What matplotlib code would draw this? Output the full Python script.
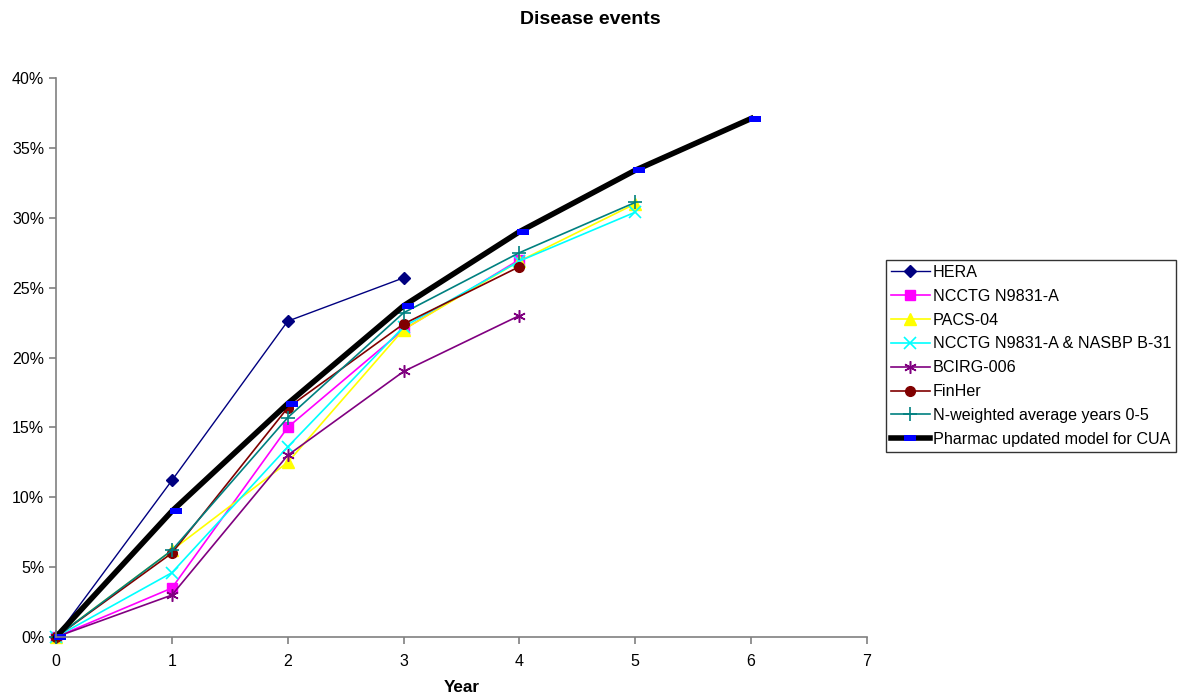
import matplotlib
matplotlib.use("Agg")
import matplotlib.pyplot as plt
from matplotlib.ticker import FuncFormatter, MultipleLocator
from matplotlib.lines import Line2D
from matplotlib.transforms import ScaledTranslation

plt.rcParams['font.family'] = ['Liberation Sans', 'DejaVu Sans']

years = [0, 1, 2, 3, 4, 5, 6]
hera = [0, 11.2, 22.6, 25.7]
ncctg = [0, 3.5, 15.0, 22.0, 27.0]
pacs = [0, 6.2, 12.5, 22.0, 26.9, 31.0]
ncctg_nsabp = [0, 4.6, 13.6, 22.2, 26.9, 30.4]
bcirg = [0, 3.0, 13.0, 19.0, 23.0]
finher = [0, 6.0, 16.4, 22.4, 26.5]
nweighted = [0, 6.2, 15.7, 23.2, 27.5, 31.1]
pharmac = [0, 9.0, 16.7, 23.7, 29.0, 33.4, 37.1]

labels = ["HERA", "NCCTG N9831-A", "PACS-04", "NCCTG N9831-A & NASBP B-31",
          "BCIRG-006", "FinHer", "N-weighted average years 0-5",
          "Pharmac updated model for CUA"]

fig = plt.figure(figsize=(11.79, 6.97), dpi=100)
ax = fig.add_axes([56/1179, 1-637/697, (867-56)/1179, (637-78)/697])

dash = [(-1, -0.45), (1, -0.45), (1, 0.45), (-1, 0.45), (-1, -0.45)]

ax.plot(years[:len(hera)], hera, color='#000080', lw=1, marker='D', ms=6, mfc='#000080', mec='#000080', label=labels[0])
ax.plot(years[:len(ncctg)], ncctg, color='#FF00FF', lw=1.2, marker='s', ms=7, mfc='#FF00FF', mec='#FF00FF', label=labels[1])
ax.plot(years[:len(pacs)], pacs, color='#FFFF00', lw=1.2, marker='^', ms=8, mfc='#FFFF00', mec='#FFFF00', label=labels[2])
ax.plot(years[:len(ncctg_nsabp)], ncctg_nsabp, color='#00FFFF', lw=1.2, marker='x', ms=8, mew=1.2, label=labels[3])
ax.plot(years[:len(bcirg)], bcirg, color='#800080', lw=1.2, marker=(6, 2, 0), ms=9, mew=1.1, label=labels[4])
ax.plot(years[:len(finher)], finher, color='#800000', lw=1.2, marker='o', ms=7, mfc='#800000', mec='#800000', label=labels[5])
ax.plot(years[:len(nweighted)], nweighted, color='#008080', lw=1.2, marker='+', ms=10, mew=1.2, label=labels[6])
ax.plot(years[:len(pharmac)], pharmac, color='black', lw=4, label='_nolegend_')
offset = ax.transData + ScaledTranslation(4/100, 0, fig.dpi_scale_trans)
ax.plot(years[:len(pharmac)], pharmac, ls='none', marker=dash, ms=8.5, mfc='#0000FF', mec='#0000FF',
        mew=0, transform=offset, label='_nolegend_')

ax.set_xlim(0, 7)
ax.set_ylim(0, 40)
ax.xaxis.set_major_locator(MultipleLocator(1))
ax.yaxis.set_major_locator(MultipleLocator(5))
ax.yaxis.set_major_formatter(FuncFormatter(lambda v, p: f"{int(round(v))}%"))
for s in ['top', 'right']:
    ax.spines[s].set_visible(False)
for s in ['left', 'bottom']:
    ax.spines[s].set_color('#808080')
    ax.spines[s].set_linewidth(1.2)
ax.tick_params(axis='both', colors='#808080', labelcolor='black', labelsize=11.5, length=5, width=1.2)
ax.tick_params(axis='x', pad=7)
for line in ax.lines:
    line.set_clip_on(False)

fig.text(590/1179, 1-20/697, "Disease events", ha='center', va='center', fontsize=14, fontweight='bold')
fig.text(462/1179, 1-688/697, "Year", ha='center', va='center', fontsize=12.3, fontweight='bold')

handles, hlabels = ax.get_legend_handles_labels()
handles.append(Line2D([], [], color='black', lw=4, marker=dash, ms=8.5, mfc='#0000FF', mec='#0000FF', mew=0))
hlabels.append(labels[7])

leg = fig.legend(handles, hlabels, loc='upper left', bbox_to_anchor=(886/1179, 1-260/697), fontsize=11.6,
                 frameon=True, fancybox=False, edgecolor='black', borderpad=0.3,
                 handlelength=2.4, labelspacing=0.55, handletextpad=0.2, borderaxespad=0)
leg.get_frame().set_linewidth(1.0)

fig.savefig("out.png", dpi=100)
